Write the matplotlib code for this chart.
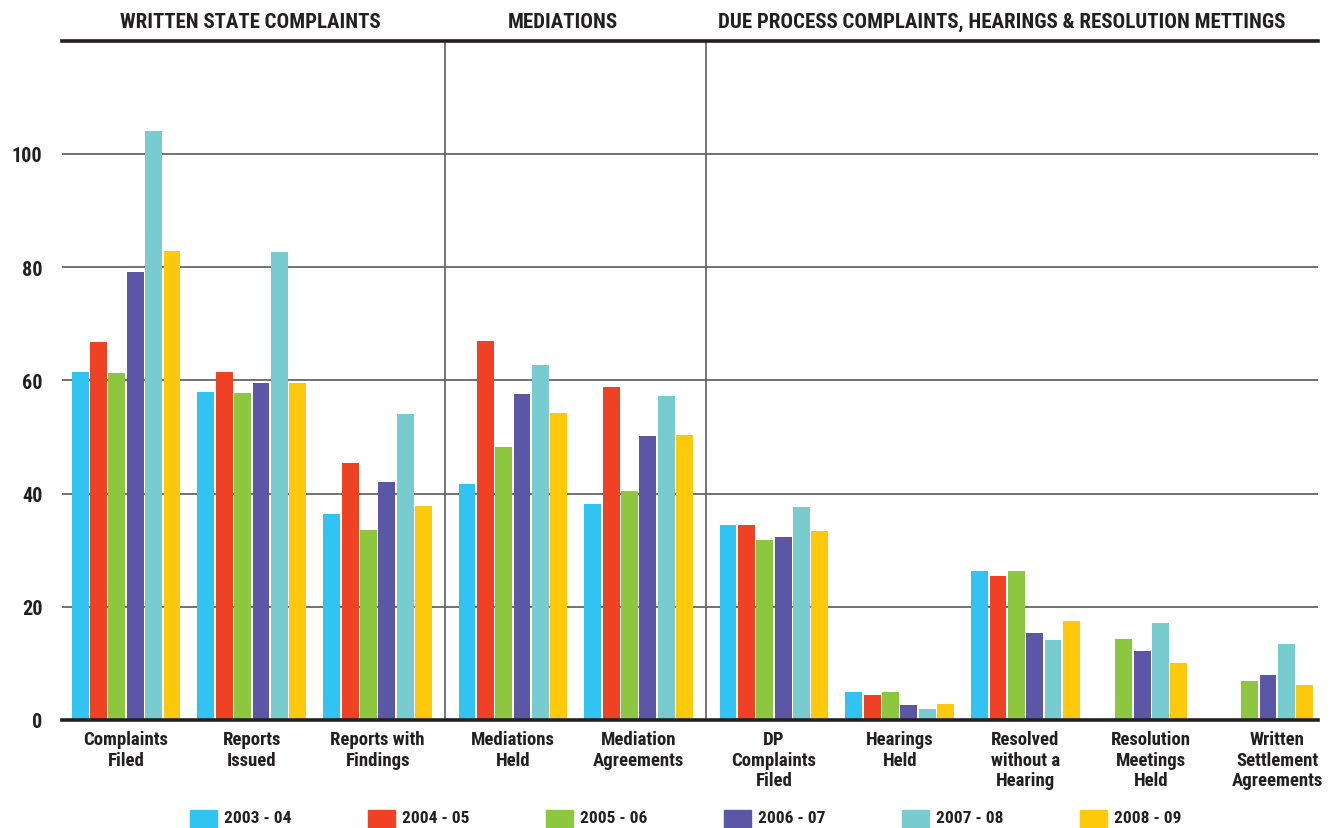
import matplotlib.pyplot as plt
import numpy as np
from matplotlib.patches import Rectangle

nan = np.nan

# categories (one per bar group) and the section each belongs to
categories = ['Complaints\nFiled', 'Reports\nIssued', 'Reports with\nFindings',
              'Mediations\nHeld', 'Mediation\nAgreements',
              'DP\nComplaints\nFiled', 'Hearings\nHeld', 'Resolved\nwithout a\nHearing',
              'Resolution\nMeetings\nHeld', 'Written\nSettlement\nAgreements']
section_of = [0, 0, 0, 1, 1, 2, 2, 2, 2, 2]
sections = ['WRITTEN STATE COMPLAINTS', 'MEDIATIONS',
            'DUE PROCESS COMPLAINTS, HEARINGS & RESOLUTION METTINGS']

years = ['2003 - 04', '2004 - 05', '2005 - 06', '2006 - 07', '2007 - 08', '2008 - 09']
y2003 = [61.4, 57.9, 36.3, 41.6, 38.2, 34.5, 5.0, 26.4, nan, nan]
y2004 = [66.7, 61.4, 45.3, 66.9, 58.8, 34.5, 4.4, 25.5, nan, nan]
y2005 = [61.2, 57.7, 33.5, 48.3, 40.4, 31.7, 5.0, 26.4, 14.3, 6.9]
y2006 = [79.1, 59.6, 42.1, 57.5, 50.1, 32.4, 2.7, 15.4, 12.2, 8.0]
y2007 = [104.1, 82.6, 54.0, 62.7, 57.3, 37.7, 1.9, 14.2, 17.2, 13.5]
y2008 = [82.8, 59.5, 37.8, 54.2, 50.4, 33.3, 2.8, 17.5, 10.1, 6.2]
series = [y2003, y2004, y2005, y2006, y2007, y2008]

colors = ['#31C4F2', '#EF4123', '#8DC63F', '#5B57A6', '#78CCD0', '#FFC90B']
txt = '#231F20'

plt.rcParams['font.family'] = ['Roboto Condensed', 'Liberation Sans Narrow', 'Roboto', 'DejaVu Sans']
plt.rcParams['font.weight'] = 'bold'

W, H = 1332, 829
fig = plt.figure(figsize=(W / 100, H / 100), dpi=100)
ax = fig.add_axes([62 / W, 1 - 721 / H, (1318 - 62) / W, (721 - 41.5) / H])

# group centres, with a little extra room between sections
gap = 0.075
x = np.arange(len(categories)) + gap * np.array(section_of)
pitch = 0.146
width = 0.134

data = np.array(series)
for g in range(len(categories)):
    present = [k for k in range(len(series)) if not np.isnan(data[k, g])]
    n = len(present)
    for j, k in enumerate(present):
        ax.bar(x[g] + (j - (n - 1) / 2) * pitch, data[k, g], width,
               color=colors[k], zorder=3)

# grid lines
for v in [20, 40, 60, 80, 100]:
    ax.axhline(v, color='#4a4a4a', lw=1.1, zorder=1)

# section separators
for g in range(1, len(categories)):
    if section_of[g] != section_of[g - 1]:
        ax.axvline((x[g] + x[g - 1]) / 2, color='#6a6a6a', lw=1.3, zorder=1)

ax.set_xlim(-0.509, 9.475)
ax.set_ylim(0, 120)
for s in ['left', 'right']:
    ax.spines[s].set_visible(False)
ax.spines['top'].set_linewidth(2.6)
ax.spines['top'].set_color(txt)
ax.spines['bottom'].set_linewidth(2.6)
ax.spines['bottom'].set_color(txt)
ax.spines['bottom'].set_zorder(5)

ax.set_yticks([0, 20, 40, 60, 80, 100])
ax.set_yticklabels(['0', '20', '40', '60', '80', '100'], fontsize=14.5, color=txt)
ax.set_xticks(x)
ax.set_xticklabels(categories, fontsize=13.5, color=txt, linespacing=1.2)
ax.tick_params(axis='y', length=0, pad=14)
ax.tick_params(axis='x', length=0, pad=7)

# section headers
header_px = [250, 563, 1002]
for name, px in zip(sections, header_px):
    fig.text(px / W, 1 - 22 / H, name, ha='center', va='center',
             fontsize=15, color=txt)

# legend along the bottom
for k, (lab, c) in enumerate(zip(years, colors)):
    left = 190 + 178 * k
    fig.add_artist(Rectangle((left / W, 0), 27 / W, 18 / H,
                             transform=fig.transFigure, color=c))
    fig.text((left + 34) / W, 1 - 819 / H, lab, ha='left', va='center',
             fontsize=12.5, color=txt)

fig.savefig('out.png', dpi=100)
